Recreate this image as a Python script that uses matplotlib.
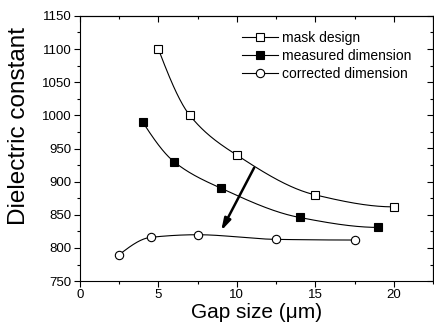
import numpy as np
import matplotlib
matplotlib.use('Agg')
import matplotlib.pyplot as plt
from matplotlib.ticker import MultipleLocator

plt.rcParams['font.family'] = ['Liberation Sans', 'DejaVu Sans']

# data
mask_x = [5, 7, 10, 15, 20]
mask_y = [1100, 1000, 940, 880, 862]
meas_x = [4, 6, 9, 14, 19]
meas_y = [990, 930, 890, 846, 831]
corr_x = [2.5, 4.5, 7.5, 12.5, 17.5]
corr_y = [790, 816, 820, 813, 812]


def smooth(xs, ys, n=300):
    """Monotone cubic (Fritsch-Carlson) curve through the points."""
    xs = np.asarray(xs, float)
    ys = np.asarray(ys, float)
    h = np.diff(xs)
    d = np.diff(ys) / h
    k = len(xs)
    m = np.zeros(k)
    for i in range(1, k - 1):
        if d[i - 1] * d[i] > 0:
            w1 = 2 * h[i] + h[i - 1]
            w2 = h[i] + 2 * h[i - 1]
            m[i] = (w1 + w2) / (w1 / d[i - 1] + w2 / d[i])
    m[0] = ((2 * h[0] + h[1]) * d[0] - h[0] * d[1]) / (h[0] + h[1])
    if np.sign(m[0]) != np.sign(d[0]):
        m[0] = 0
    m[-1] = ((2 * h[-1] + h[-2]) * d[-1] - h[-1] * d[-2]) / (h[-1] + h[-2])
    if np.sign(m[-1]) != np.sign(d[-1]):
        m[-1] = 0
    xf = np.linspace(xs[0], xs[-1], n)
    idx = np.clip(np.searchsorted(xs, xf) - 1, 0, k - 2)
    hh = h[idx]
    t = (xf - xs[idx]) / hh
    h00 = 2 * t**3 - 3 * t**2 + 1
    h10 = t**3 - 2 * t**2 + t
    h01 = -2 * t**3 + 3 * t**2
    h11 = t**3 - t**2
    yf = h00 * ys[idx] + h10 * hh * m[idx] + h01 * ys[idx + 1] \
        + h11 * hh * m[idx + 1]
    return xf, yf


fig = plt.figure(figsize=(4.34, 3.30), dpi=100)
ax = fig.add_axes([0.184, 0.148, 0.814, 0.804])

series = [
    (mask_x, mask_y, 's', 'white', 'mask design'),
    (meas_x, meas_y, 's', 'black', 'measured dimension'),
    (corr_x, corr_y, 'o', 'white', 'corrected dimension'),
]
for xs, ys, m, fc, lab in series:
    xf, yf = smooth(xs, ys)
    ax.plot(xf, yf, color='black', lw=0.8, zorder=2)
    ax.plot(xs, ys, linestyle='none', marker=m, ms=6, mfc=fc, mec='black',
            mew=0.8, zorder=3)
    ax.plot([], [], color='black', lw=0.8, marker=m, ms=6, mfc=fc,
            mec='black', mew=0.8, label=lab)

ax.annotate('', xy=(9.0, 826), xytext=(11.1, 921),
            arrowprops=dict(arrowstyle='-|>,head_length=0.7,head_width=0.2',
                            color='black', lw=1.8, mutation_scale=10,
                            shrinkA=0, shrinkB=0))

ax.set_xlim(0, 22.5)
ax.set_ylim(750, 1150)
ax.xaxis.set_major_locator(MultipleLocator(5))
ax.xaxis.set_minor_locator(MultipleLocator(2.5))
ax.yaxis.set_major_locator(MultipleLocator(50))
ax.yaxis.set_minor_locator(MultipleLocator(25))
ax.tick_params(which='both', direction='out', labelsize=9.5, width=0.8,
               pad=2)
ax.tick_params(which='major', length=4)
ax.tick_params(which='minor', length=2)

# mirrored ticks on top and right point inward
sx = ax.secondary_xaxis('top')
sx.xaxis.set_major_locator(MultipleLocator(5))
sx.xaxis.set_minor_locator(MultipleLocator(2.5))
sx.tick_params(which='both', direction='in', labeltop=False, width=0.8)
sx.tick_params(which='major', length=4)
sx.tick_params(which='minor', length=2)
sy = ax.secondary_yaxis('right')
sy.yaxis.set_major_locator(MultipleLocator(50))
sy.yaxis.set_minor_locator(MultipleLocator(25))
sy.tick_params(which='both', direction='in', labelright=False, width=0.8)
sy.tick_params(which='major', length=4)
sy.tick_params(which='minor', length=2)

ax.set_xlabel('Gap size (\u03bcm)', fontsize=15, labelpad=1)
ax.set_ylabel('Dielectric constant', fontsize=17.5)
ax.yaxis.set_label_coords(-0.142, 0.585)

ax.legend(loc='upper left', bbox_to_anchor=(0.458, 0.942), frameon=False,
          fontsize=10, handlelength=2.6, handletextpad=0.3,
          labelspacing=0.28, borderaxespad=0.0, borderpad=0.0)

plt.savefig('out.png', dpi=100)
plt.close()
